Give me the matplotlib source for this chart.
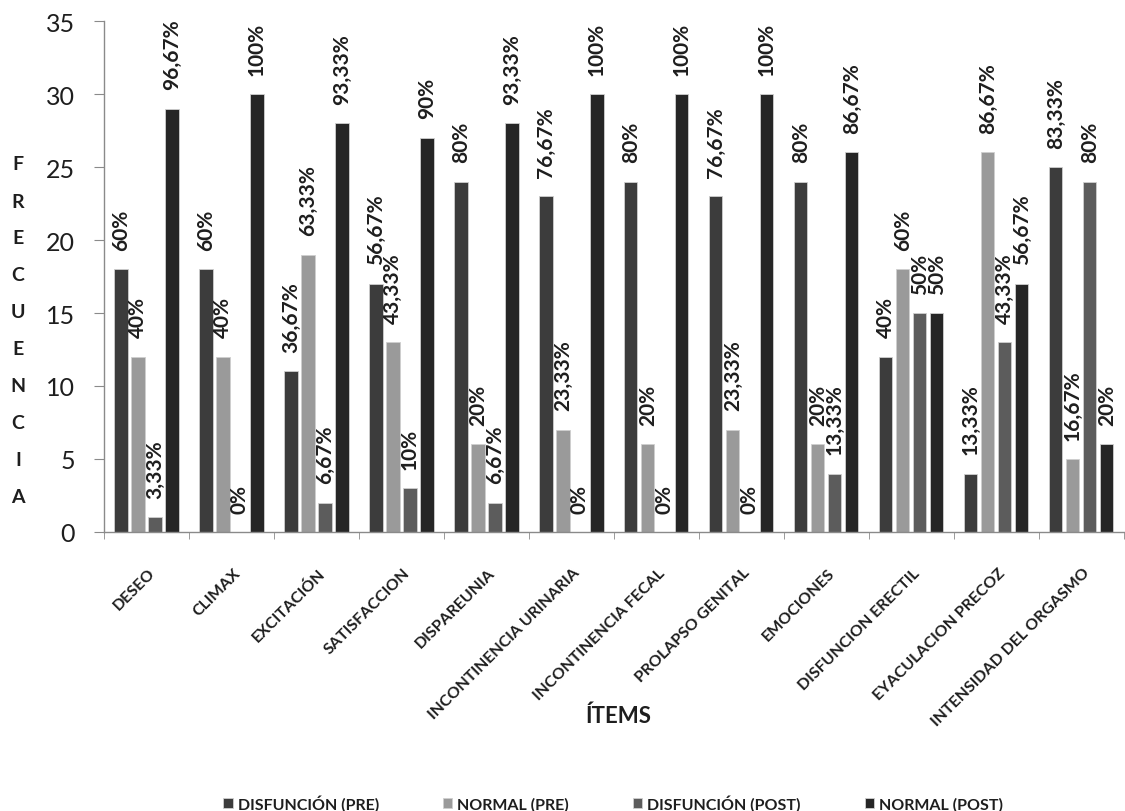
"""
Frecuencia de disfunción / normalidad por ítem, antes y después (PRE / POST).
"""

import matplotlib

matplotlib.use("Agg")
import matplotlib.pyplot as plt
import matplotlib.transforms as mtransforms
import numpy as np

plt.rcParams["font.family"] = ["Lato", "DejaVu Sans"]

items = [
    "DESEO",
    "CLIMAX",
    "EXCITACIÓN",
    "SATISFACCION",
    "DISPAREUNIA",
    "INCONTINENCIA URINARIA",
    "INCONTINENCIA FECAL",
    "PROLAPSO GENITAL",
    "EMOCIONES",
    "DISFUNCION ERECTIL",
    "EYACULACION PRECOZ",
    "INTENSIDAD DEL ORGASMO",
]

series_names = ["DISFUNCIÓN (PRE)", "NORMAL (PRE)", "DISFUNCIÓN (POST)", "NORMAL (POST)"]

disfuncion_pre = [18, 18, 11, 17, 24, 23, 24, 23, 24, 12, 4, 25]
normal_pre = [12, 12, 19, 13, 6, 7, 6, 7, 6, 18, 26, 5]
disfuncion_post = [1, 0, 2, 3, 2, 0, 0, 0, 4, 15, 13, 24]
normal_post = [29, 30, 28, 27, 28, 30, 30, 30, 26, 15, 17, 6]

total = 30  # pacientes por ítem

colors = ["#3c3c3c", "#9a9a9a", "#5c5c5c", "#262626"]
text_color = "#1e1e1e"


def pct_label(value):
    """Porcentaje con coma decimal, sin decimales si es entero."""
    p = value / total * 100
    if abs(p - round(p)) < 1e-6:
        return f"{int(round(p))}%"
    return f"{p:.2f}%".replace(".", ",")


fig = plt.figure(figsize=(11.25, 8.12), dpi=100)
ax = fig.add_axes([0.0924, 0.3436, 0.9066, 0.6293])

x = np.arange(len(items))
offsets = [-0.3, -0.1, 0.1, 0.3]
width = 0.155

all_series = [disfuncion_pre, normal_pre, disfuncion_post, normal_post]
containers = []
for values, off, color, name in zip(all_series, offsets, colors, series_names):
    bars = ax.bar(
        x + off,
        values,
        width,
        color=color,
        edgecolor="#cfcfcf",
        linewidth=0.6,
        label=name,
        zorder=2,
    )
    containers.append(bars)
    for xi, v in zip(x + off, values):
        ax.annotate(
            pct_label(v),
            xy=(xi, v),
            xytext=(0, 14),
            textcoords="offset points",
            rotation=90,
            ha="center",
            va="bottom",
            fontsize=15,
            fontweight="bold",
            color=text_color,
        )

ax.set_xlim(-0.5, len(items) - 0.5)
ax.set_ylim(0, 35)
ax.set_yticks(np.arange(0, 36, 5))

for side in ("top", "right"):
    ax.spines[side].set_visible(False)
for side in ("left", "bottom"):
    ax.spines[side].set_color("#8a8a8a")
    ax.spines[side].set_linewidth(1.0)

ax.tick_params(axis="y", length=7, color="#8a8a8a", labelsize=18, pad=14,
               labelcolor=text_color)
ax.set_xticks(x)
ax.set_xticks(np.arange(-0.5, len(items), 1), minor=True)
ax.tick_params(axis="x", which="major", length=0, pad=24)
ax.tick_params(axis="x", which="minor", length=5, color="#8a8a8a")
ax.set_xticklabels(
    items,
    rotation=45,
    ha="right",
    rotation_mode="anchor",
    fontsize=11.5,
    fontweight="bold",
    color=text_color,
)
shift = mtransforms.ScaledTranslation(1 / 72, 0, fig.dpi_scale_trans)
for lbl in ax.get_xticklabels():
    lbl.set_transform(lbl.get_transform() + shift)

# eje Y: letras apiladas verticalmente
ylabel = "FRECUENCIA"
top_px, step_px = 165, 37
for i, ch in enumerate(ylabel):
    fig.text(
        18 / 1125,
        1 - (top_px + i * step_px) / 812,
        ch,
        ha="center",
        va="center",
        fontsize=14,
        fontweight="bold",
        color=text_color,
    )

fig.text(619 / 1125, 1 - 716 / 812, "ÍTEMS", ha="center", va="center",
         fontsize=16, fontweight="bold", color=text_color)

fig.legend(
    handles=containers,
    labels=series_names,
    loc="center",
    bbox_to_anchor=(0.545, 1 - 804 / 812),
    ncol=4,
    frameon=False,
    handlelength=0.6,
    handleheight=0.6,
    handletextpad=0.3,
    columnspacing=4.0,
    prop={"weight": "bold", "size": 11.5},
    labelcolor=text_color,
)

fig.savefig("out.png", dpi=100, facecolor="white")
